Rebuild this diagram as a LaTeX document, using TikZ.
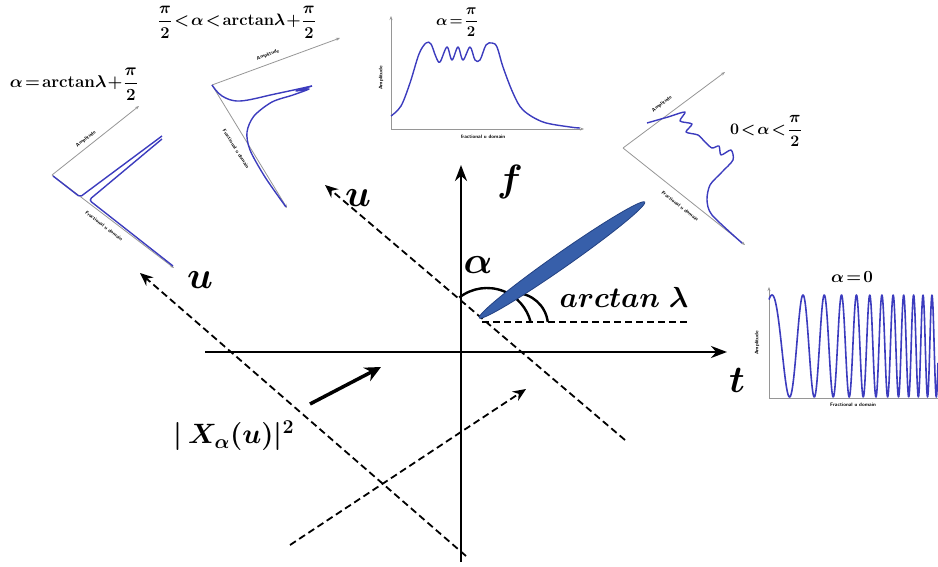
\RequirePackage{fix-cm}
\documentclass[tikz,border=0pt]{standalone}
\usepackage{amsmath,bm}
\usetikzlibrary{arrows.meta}
\definecolor{curve}{RGB}{60,60,190}
\definecolor{axgray}{RGB}{150,150,150}
\definecolor{beam}{RGB}{55,95,170}
\definecolor{beamedge}{RGB}{35,65,130}
\begin{document}
\begin{tikzpicture}[x=1pt,y=-1pt,
  mainaxis/.style={line width=2.6pt,-{Stealth[length=16pt,width=12pt]}},
  ulines/.style={line width=1.8pt,dash pattern=on 7pt off 4pt,-{Stealth[length=13pt,width=11pt]}},
  hdash/.style={line width=1.8pt,dash pattern=on 7pt off 4pt},
  anglearc/.style={line width=2.4pt},
  insetaxis/.style={draw=axgray,line width=0.8pt,-{Stealth[length=4pt,width=3pt]}},
  spec/.style={draw=curve,line width=1.4pt,line join=round},
  axlab/.style={font=\fontsize{5}{6}\selectfont\sffamily\bfseries,inner sep=0.5pt},
  biglab/.style={font=\fontsize{38}{40}\selectfont\boldmath,inner sep=0pt},
  inlab/.style={font=\fontsize{17}{19}\selectfont\bfseries\boldmath,inner sep=0pt}]
\useasboundingbox (0,0) rectangle (938,567);

% ---------- main axes ----------
\coordinate (tL) at (205,352);
\coordinate (tR) at (727,352);
\coordinate (fB) at (461,562);
\coordinate (fT) at (461,165);
\draw[mainaxis] (tL) -- (tR);
\draw[mainaxis] (fB) -- (fT);

% ---------- dashed u axes ----------
\coordinate (u1s) at (625,440);
\coordinate (u1e) at (325,185);
\coordinate (u2s) at (466,556);
\coordinate (u2e) at (140,273);
\coordinate (w1s) at (290,545);
\coordinate (w1e) at (526,389);
\coordinate (h1) at (482,322);
\coordinate (h2) at (690,322);
\draw[ulines] (u1s) -- (u1e);
\draw[ulines] (u2s) -- (u2e);
\draw[ulines] (w1s) -- (w1e);
\draw[hdash] (h1) -- (h2);

% ---------- angle arcs ----------
\coordinate (ca) at (487,333);
\coordinate (cb) at (515,326);
\draw[anglearc] (ca) ++(128:45pt) arc[start angle=128,end angle=14,radius=45pt];
\draw[anglearc] (cb) ++(90:33pt) arc[start angle=90,end angle=7,radius=33pt];

% ---------- beam ----------
\draw[fill=beam,draw=beamedge,line width=0.8pt,rotate around={35:(562,260)}] (562,260) ellipse[x radius=101pt,y radius=7.5pt];

% ---------- main labels ----------
\node[biglab] (flab) at (510,182) {$f$};
\node[biglab] (tlab) at (737,380) {$t$};
\node[biglab] (u1lab) at (358,198) {$u$};
\node[biglab] (u2lab) at (200,280) {$u$};
\node[biglab] (alab) at (478,265) {$\alpha$};
\node[font=\fontsize{29}{32}\selectfont\boldmath,inner sep=0pt] (arclab) at (624,297) {$arctan\ \lambda$};
\node[font=\fontsize{28}{30}\selectfont\boldmath,inner sep=0pt] (Xlab) at (234,436) {$|\,X_{\alpha}(u)|^{2}$};
\coordinate (Xa) at (310,404);
\coordinate (Xb) at (381,367);
\draw[line width=3.5pt,-{Stealth[length=16pt,width=15pt]}] (Xa) -- (Xb);

% ---------- inset 1 : alpha = arctan lambda + pi/2 ----------
\coordinate (a1o) at (52,175);
\coordinate (a1a) at (139,106);
\coordinate (a1f) at (174,268);
\draw[insetaxis] (a1o) -- (a1a);
\draw[insetaxis] (a1o) -- (a1f);
\draw[spec,rounded corners=2pt] (53,176) -- (80,197) -- (162,136);
\draw[spec,rounded corners=3pt] (162,139) -- (89,200) -- (173,266);
\node[axlab,rotate=38] (a1al) at (86,139) {Amplitude};
\node[axlab,rotate=-37.5] (a1fl) at (104,226) {Fractional u domain};
\node[inlab] (a1lab) at (74,84) {$\alpha\!=\!\mathrm{arctan}\lambda\!+\!\dfrac{\pi}{2}$};

% ---------- inset 2 : pi/2 < alpha < arctan lambda + pi/2 ----------
\coordinate (a2o) at (212,85);
\coordinate (a2a) at (340,38);
\coordinate (a2f) at (287,208);
\draw[insetaxis] (a2o) -- (a2a);
\draw[insetaxis] (a2o) -- (a2f);
\draw[spec] plot[smooth,tension=0.6] coordinates {(212,85) (222,96) (240,101) (275,94) (312,86)};
\draw[spec] plot[smooth,tension=0.5] coordinates {(312,86) (296,91) (309,89) (293,95) (272,102) (254,116) (247,132) (250,150) (265,177) (286,207)};
\node[axlab,rotate=20] (a2al) at (268,55) {Amplitude};
\node[axlab,rotate=-58] (a2fl) at (236,149) {Fractional u domain};
\node[inlab,font=\fontsize{16.5}{18}\selectfont\bfseries\boldmath] (a2lab) at (237,22) {$\dfrac{\pi}{2}\!<\!\alpha\!<\!\mathrm{arctan}\lambda\!+\!\dfrac{\pi}{2}$};

% ---------- inset 3 : alpha = pi/2 ----------
\coordinate (a3o) at (391,129);
\coordinate (a3a) at (391,16);
\coordinate (a3f) at (584,129);
\draw[insetaxis] (a3o) -- (a3a);
\draw[insetaxis] (a3o) -- (a3f);
\draw[spec] plot[smooth,tension=0.55] coordinates {(391,116) (401,106) (410,83) (419,54) (426,43) (431,44) (436,57) (440,62) (447,47) (452,60) (458,47) (463,60) (470,47) (475,60) (480,60) (486,45) (492,43) (497,47) (503,67) (513,93) (523,110) (543,122) (570,127) (580,128)};
\node[axlab,rotate=90] (a3al) at (381,78) {Amplitude};
\node[axlab] (a3fl) at (483,137) {fractional u domain};
\node[inlab,font=\fontsize{15}{16}\selectfont\bfseries\boldmath] (a3lab) at (457,22) {$\alpha\!=\!\dfrac{\pi}{2}$};

% ---------- inset 4 : 0 < alpha < pi/2 ----------
\coordinate (a4o) at (623,148);
\coordinate (a4a) at (725,72);
\coordinate (a4f) at (745,245);
\draw[insetaxis] (a4o) -- (a4a);
\draw[insetaxis] (a4o) -- (a4f);
\draw[spec] plot[smooth,tension=0.45] coordinates {(647,123) (668,117) (685,112) (680,121) (692,124) (686,132) (698,135) (705,142) (712,148) (719,146) (721,155) (731,150) (733,160) (722,172) (710,185) (707,200) (712,215) (742,243)};
\node[axlab,rotate=37] (a4al) at (662,104) {Amplitude};
\node[axlab,rotate=-38.5] (a4fl) at (680,206) {Fractional u domain};
\node[inlab,font=\fontsize{16}{18}\selectfont\bfseries\boldmath] (a4lab) at (766,131) {$0\!<\!\alpha\!<\!\dfrac{\pi}{2}$};

% ---------- inset 5 : alpha = 0 ----------
\coordinate (a5o) at (769,398);
\coordinate (a5a) at (769,287);
\coordinate (a5f) at (938,398);
\draw[insetaxis] (a5o) -- (a5a);
\draw[draw=axgray,line width=0.8pt] (a5o) -- (a5f);
\draw[spec,line width=1.6pt] plot[domain=-3:166,samples=500] ({772+\x},{346-51*cos(360*(0.02349*\x+2.83*(\x/100)*(\x/100)))});
\node[axlab,rotate=90] (a5al) at (757,343) {Amplitude};
\node[axlab] (a5fl) at (853,405) {Fractional u domain};
\node[inlab] (a5lab) at (852,277) {$\alpha\!=\!0$};
\end{tikzpicture}
\end{document}
